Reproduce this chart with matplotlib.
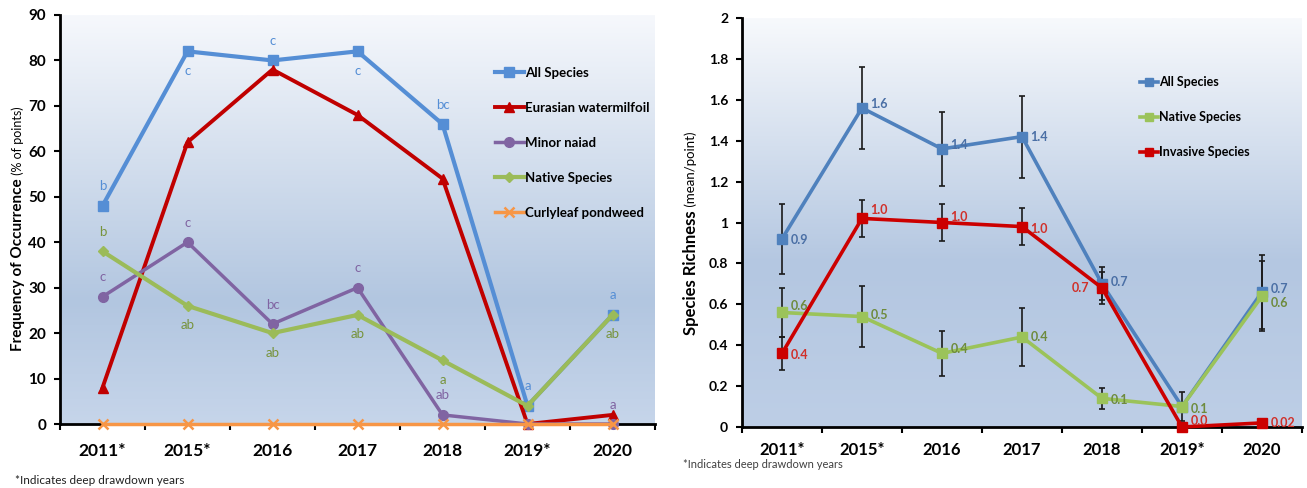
import numpy as np
import matplotlib
matplotlib.use('Agg')
import matplotlib.pyplot as plt
from matplotlib.colors import LinearSegmentedColormap
from matplotlib.lines import Line2D

plt.rcParams['font.family'] = ['Lato', 'DejaVu Sans']

# ── Data ──────────────────────────────────────────────────────────
years = ['2011*', '2015*', '2016', '2017', '2018', '2019*', '2020']

# Left: frequency of occurrence (% of points)
all_species   = [48, 82, 80, 82, 66, 4, 24]
eurasian      = [8, 62, 78, 68, 54, 0, 2]
minor_naiad   = [28, 40, 22, 30, 2, 0, 0]
native        = [38, 26, 20, 24, 14, 4, 24]
curlyleaf     = [0, 0, 0, 0, 0, 0, 0]

letters_all    = ['b', 'c', 'c', 'c', 'bc', 'a', 'a']
letters_naiad  = ['c', 'c', 'bc', 'c', 'ab', '', 'a']
letters_native = ['b', 'ab', 'ab', 'ab', 'a', '', 'ab']

# Right: species richness (mean/point)
rich_all      = [0.92, 1.56, 1.36, 1.42, 0.70, 0.10, 0.66]
rich_all_err  = [0.17, 0.20, 0.18, 0.20, 0.08, 0.0, 0.18]
rich_native   = [0.56, 0.54, 0.36, 0.44, 0.14, 0.10, 0.64]
rich_nat_err  = [0.12, 0.15, 0.11, 0.14, 0.05, 0.07, 0.17]
rich_inv      = [0.36, 1.02, 1.00, 0.98, 0.68, 0.0, 0.02]
rich_inv_err  = [0.08, 0.09, 0.09, 0.09, 0.08, 0.0, 0.0]

lab_all    = ['0.9', '1.6', '1.4', '1.4', '0.7', '', '0.7']
lab_native = ['0.6', '0.5', '0.4', '0.4', '0.1', '0.1', '0.6']
lab_inv    = ['0.4', '1.0', '1.0', '1.0', '0.7', '0.0', '0.02']

# ── Styles ────────────────────────────────────────────────────────
BLUE, RED, PURPLE, GREEN, ORANGE = '#558ED5', '#C00000', '#8064A2', '#9BBB59', '#F79646'
R_BLUE, R_GREEN, R_RED = '#4F81BD', '#9BC35A', '#CC0000'
T_BLUE, T_GREEN, T_RED = '#4A6FA5', '#6E8B3D', '#D0302A'

W, H = 1307, 488
fig = plt.figure(figsize=(W / 100, H / 100), dpi=100)


def px_axes(x0, y0, x1, y1):
    return fig.add_axes([x0 / W, 1 - y1 / H, (x1 - x0) / W, (y1 - y0) / H])


def gradient(ax, stops):
    cmap = LinearSegmentedColormap.from_list('bg', stops)
    g = np.linspace(0, 1, 256).reshape(-1, 1)
    ax.imshow(g, extent=[0, 1, 0, 1], transform=ax.transAxes, aspect='auto',
              cmap=cmap, origin='lower', zorder=0)


def style_axes(ax, ymax, ystep, xfs, yfs, xpad):
    x = np.arange(len(years))
    ax.set_xlim(-0.5, len(years) - 0.5)
    ax.set_ylim(0, ymax)
    ax.set_xticks(x)
    ax.set_xticklabels(years, fontsize=xfs, fontweight='bold')
    ax.set_xticks(np.arange(-0.5, len(years)), minor=True)
    ax.tick_params(axis='x', which='major', length=0, pad=xpad)
    ax.tick_params(axis='x', which='minor', length=4, width=1.5, direction='out')
    ax.set_yticks(np.arange(0, ymax + ystep / 2, ystep))
    ax.tick_params(axis='y', length=4, width=1.5, pad=6, labelsize=yfs)
    for s in ['top', 'right']:
        ax.spines[s].set_visible(False)
    for s in ['left', 'bottom']:
        ax.spines[s].set_linewidth(2)
        ax.spines[s].set_zorder(1)


def two_part_ylabel(x, yc, bold_txt, reg_txt, bfs, rfs):
    t1 = fig.text(x / W, 0, bold_txt, rotation=90, fontsize=bfs, fontweight='bold',
                  ha='center', va='bottom')
    t2 = fig.text(x / W, 0, reg_txt, rotation=90, fontsize=rfs,
                  ha='center', va='bottom')
    r = fig.canvas.get_renderer()
    h1 = t1.get_window_extent(r).height
    h2 = t2.get_window_extent(r).height
    y0 = (H - yc) - (h1 + h2) / 2
    t1.set_y(y0 / H)
    t2.set_y((y0 + h1) / H)


# ── Left panel ────────────────────────────────────────────────────
ax1 = px_axes(60, 15, 655, 424)
gradient(ax1, [(0, '#C6D5EA'), (0.3, '#B2C6E0'), (1, '#F6F8FC')])
x = np.arange(len(years))

ax1.plot(x, all_species, color=BLUE, lw=3, marker='s', ms=7, label='All Species', zorder=3, clip_on=False)
ax1.plot(x, eurasian, color=RED, lw=2.8, marker='^', ms=7, label='Eurasian watermilfoil', zorder=3, clip_on=False)
ax1.plot(x, minor_naiad, color=PURPLE, lw=2.5, marker='o', ms=7, label='Minor naiad', zorder=3, clip_on=False)
ax1.plot(x, native, color=GREEN, lw=3, marker='D', ms=5, label='Native Species', zorder=3, clip_on=False)
ax1.plot(x, curlyleaf, color=ORANGE, lw=2.5, marker='x', ms=7, mew=1.8, label='Curlyleaf pondweed', zorder=3, clip_on=False)

# significance letters: +1 above marker, -1 below
pos_all    = [1, -1, 1, -1, 1, 1, 1]
pos_naiad  = [1, 1, 1, 1, 1, 1, 1]
pos_native = [1, -1, -1, -1, -1, 1, -1]
for vals, lets, pos, col in [(all_species, letters_all, pos_all, BLUE),
                             (minor_naiad, letters_naiad, pos_naiad, PURPLE),
                             (native, letters_native, pos_native, '#77933C')]:
    for i, (v, l, p) in enumerate(zip(vals, lets, pos)):
        if l:
            ax1.annotate(l, (i, v), xytext=(0, 14 * p), textcoords='offset points',
                         ha='center', va='center', fontsize=9.5, color=col, zorder=4)

style_axes(ax1, 90, 10, 12.5, 11, 14)
for lab in ax1.get_yticklabels():
    lab.set_fontweight('bold')
ax1.legend(loc='upper left', bbox_to_anchor=(488 / W, 1 - 60 / H), bbox_transform=fig.transFigure,
           frameon=False, handlelength=2.2, handletextpad=0.1, labelspacing=1.75,
           prop={'weight': 'bold', 'size': 9.5}, borderpad=0)

two_part_ylabel(18, 229, 'Frequency of Occurrence', ' (% of points)', 11, 9)
fig.text(15 / W, 1 - 480 / H, '*Indicates deep drawdown years', fontsize=8.5, va='center', color='#202020')

# ── Right panel ───────────────────────────────────────────────────
ax2 = px_axes(742, 18, 1302, 427)
gradient(ax2, [(0, '#BDCEE6'), (0.4, '#B4C7E1'), (1, '#F7F9FC')])

ekw = dict(ecolor='#1A1A1A', elinewidth=1.2, capsize=2.5, capthick=1.2, zorder=3)
ax2.errorbar(x, rich_all, yerr=rich_all_err, color=R_BLUE, lw=2.6, marker='s', ms=7.5, clip_on=False, **ekw)
ax2.errorbar(x, rich_native, yerr=rich_nat_err, color=R_GREEN, lw=2.6, marker='s', ms=7.5, clip_on=False, **ekw)
ax2.errorbar(x, rich_inv, yerr=rich_inv_err, color=R_RED, lw=2.6, marker='s', ms=7.5, clip_on=False, **ekw)

# label offsets in points
off_all    = [(6, -1), (6, 3), (6, 3), (6, 0), (6, 1), (6, 0), (6, 2)]
off_native = [(6, 5), (6, 1), (6, 3), (6, 0), (6, -1), (6, -2), (6, -5)]
off_inv    = [(6, -1), (6, 6), (6, 4), (6, -2), (-22, 0), (6, 4), (6, 0)]
for vals, labs, offs, col in [(rich_all, lab_all, off_all, T_BLUE),
                              (rich_native, lab_native, off_native, T_GREEN),
                              (rich_inv, lab_inv, off_inv, T_RED)]:
    for i, (v, l, o) in enumerate(zip(vals, labs, offs)):
        if l:
            ax2.annotate(l, (i, v), xytext=o, textcoords='offset points',
                         ha='left', va='center', fontsize=9, fontweight='bold', color=col, zorder=5)

style_axes(ax2, 2, 0.2, 12, 10, 11)
ax2.set_yticklabels(['0', '0.2', '0.4', '0.6', '0.8', '1', '1.2', '1.4', '1.6', '1.8', '2'],
                    fontweight='bold')
handles = [Line2D([], [], color=c, lw=2.6, marker='s', ms=6) for c in (R_BLUE, R_GREEN, R_RED)]
ax2.legend(handles, ['All Species', 'Native Species', 'Invasive Species'],
           loc='upper left', bbox_to_anchor=(1134 / W, 1 - 70 / H), bbox_transform=fig.transFigure,
           frameon=False, handlelength=1.4, handletextpad=0.1, labelspacing=1.85,
           prop={'weight': 'bold', 'size': 9}, borderpad=0)

two_part_ylabel(691, 233, 'Species Richness', ' (mean/point)', 12, 9.5)
fig.text(683 / W, 1 - 465 / H, '*Indicates deep drawdown years', fontsize=8, va='center', color='#404040')

plt.savefig('out.png', dpi=100)
